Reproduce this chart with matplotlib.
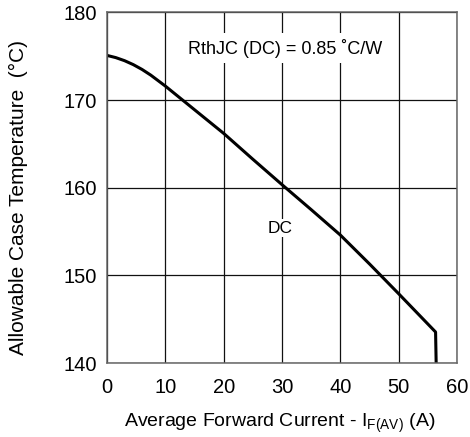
import matplotlib
matplotlib.use("Agg")
from matplotlib import pyplot as plt

plt.rcParams['font.family'] = ['Liberation Sans', 'DejaVu Sans']

# DC derating curve
current = [0, 1.5, 3, 4.5, 6, 7.5, 10, 12.5, 15, 17.5, 20, 25, 30, 35, 40, 45, 50, 56.3, 56.4]
case_temp = [175.1, 174.85, 174.5, 174.05, 173.5, 172.85, 171.6, 170.25, 168.9, 167.55, 166.2,
             163.25, 160.35, 157.5, 154.6, 151.3, 147.9, 143.55, 140.0]

x_ticks = [0, 10, 20, 30, 40, 50, 60]
y_ticks = [140, 150, 160, 170, 180]

fig = plt.figure(figsize=(4.7, 4.37), dpi=100)
ax = fig.add_axes([0.2277, 0.169, 0.745, 0.8025])

ax.plot(current, case_temp, color='black', linewidth=2.2, solid_joinstyle='round')

ax.set_xlim(0, 60)
ax.set_ylim(140, 180)
ax.set_xticks(x_ticks)
ax.set_yticks(y_ticks)
ax.grid(True, color='#111111', linewidth=0.9)
ax.set_axisbelow(True)
ax.tick_params(length=0, labelsize=14.5, colors='black')
ax.tick_params(axis='x', pad=11)
ax.tick_params(axis='y', pad=7)
for sp in ax.spines.values():
    sp.set_color('#666666')
    sp.set_linewidth(1.1)

fig.text(0.596, 0.0229, 'Average Forward Current - I$_{\\mathregular{F(AV)}}$ (A)',
         fontsize=14, ha='center', va='baseline')
fig.text(0.0383, 0.549, 'Allowable Case Temperature  (°C)', fontsize=15,
         rotation=90, ha='center', va='center')

ax.text(30.6, 175.9, 'RthJC (DC) = 0.85 ˚C/W', fontsize=13, ha='center', va='center',
        bbox=dict(facecolor='white', edgecolor='none', pad=4))
ax.text(29.6, 155.4, 'DC', fontsize=12.5, ha='center', va='center',
        bbox=dict(facecolor='white', edgecolor='none', pad=1))

fig.savefig('out.png', dpi=100)
